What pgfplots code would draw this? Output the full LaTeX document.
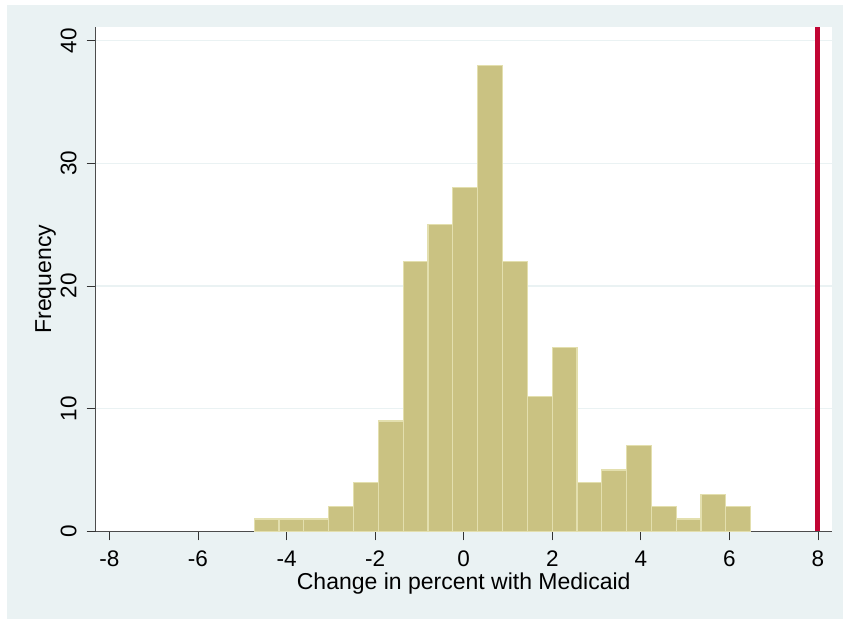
\documentclass[border=0pt]{standalone}
\usepackage{pgfplots}
\pgfplotsset{compat=1.18}
\usepackage{fontspec}
\setmainfont{Liberation Sans}
\definecolor{bgc}{HTML}{EAF2F3}
\definecolor{barfill}{HTML}{CAC282}
\definecolor{baredge}{HTML}{E3DFAE}
\definecolor{redline}{HTML}{C10534}
\begin{document}
\begin{tikzpicture}[x=1bp,y=1bp]
\useasboundingbox (-95.7,-87.7) rectangle (747.3,531.3);
\fill[bgc] (-88.7,-87.7) rectangle (747.3,526.3);
\begin{axis}[at={(0,0)}, anchor=south west, scale only axis,
  width=736bp, height=504bp,
  xmin=-8.31, xmax=8.31, ymin=0, ymax=41.09,
  axis x line*=bottom, axis y line*=left,
  axis line style={black!70, line width=0.8bp},
  axis background/.style={fill=white},
  xtick={-8,-6,...,8}, ytick={0,10,20,30,40},
  tick align=outside, major tick length=9bp,
  tick style={black!80, line width=0.8bp},
  ymajorgrids, grid style={bgc, line width=1.5bp},
  /pgf/number format/assume math mode=true,
  ticklabel style={font=\fontsize{22.5bp}{26bp}\selectfont, inner sep=0pt},
  xticklabel style={anchor=north},
  yticklabel style={rotate=90, anchor=south},
  xticklabel shift=10.7bp, yticklabel shift=10bp,
  xlabel={Change in percent with Medicaid},
  ylabel={Frequency},
  label style={font=\fontsize{23bp}{27bp}\selectfont, inner sep=0pt},
  xlabel style={at={(axis description cs:0.5,-0.08194)}, anchor=north},
  ylabel style={at={(axis description cs:-0.08247,0.5)}, anchor=north},
]
\addplot[ybar interval, fill=barfill, draw=baredge, line width=1.2bp] coordinates {
 (-4.730,1) (-4.1695,1) (-3.609,1) (-3.0485,2) (-2.488,4) (-1.9275,9)
 (-1.367,22) (-0.8065,25) (-0.246,28) (0.3145,38) (0.875,22) (1.4355,11)
 (1.996,15) (2.5565,4) (3.117,5) (3.6775,7) (4.238,2) (4.7985,1)
 (5.359,3) (5.9195,2) (6.480,0) };
\addplot[redline, line width=5bp] coordinates {(8,0) (8,41.09)};
\end{axis}
\end{tikzpicture}
\end{document}
